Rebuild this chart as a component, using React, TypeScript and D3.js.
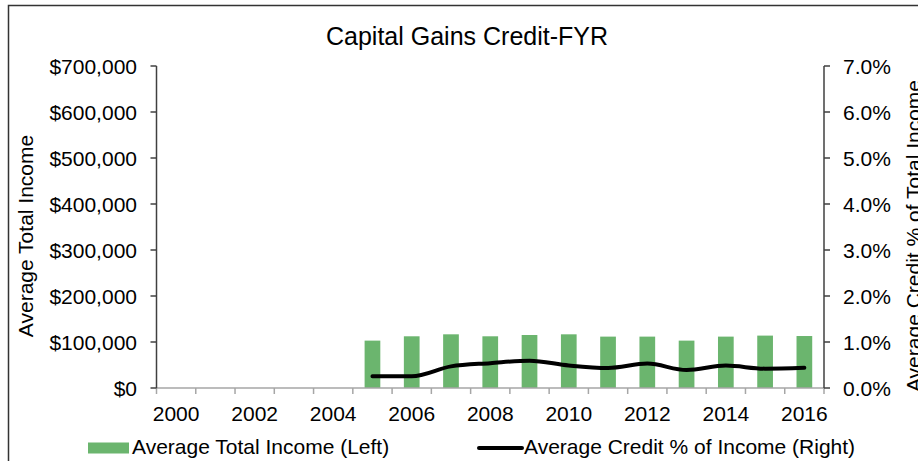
import React from "react";
import * as d3 from "d3";

const years: number[] = [2000, 2001, 2002, 2003, 2004, 2005, 2006, 2007, 2008, 2009, 2010, 2011, 2012, 2013, 2014, 2015, 2016];
const avgIncome: (number | null)[] = [null, null, null, null, null, 103000, 112400, 116700, 112400, 115200, 116700, 111700, 111700, 103000, 111700, 113900, 113000];
const creditPct: (number | null)[] = [null, null, null, null, null, 0.254, 0.254, 0.47, 0.54, 0.595, 0.49, 0.435, 0.53, 0.39, 0.487, 0.42, 0.44];
const leftTicks: number[] = [0, 100000, 200000, 300000, 400000, 500000, 600000, 700000];
const rightTicks: number[] = [0, 1, 2, 3, 4, 5, 6, 7];
const xLabelYears: number[] = [2000, 2002, 2004, 2006, 2008, 2010, 2012, 2014, 2016];

const W = 918;
const H = 461;
const L = 156.5;
const R = 824;
const T = 66;
const B = 388;
const FONT = "'Liberation Sans', Arial, sans-serif";

export default function App() {
  const x = d3.scaleBand<number>().domain(years).range([L, R]).paddingInner(0).paddingOuter(0);
  const yL = d3.scaleLinear().domain([0, 700000]).range([B, T]);
  const yR = d3.scaleLinear().domain([0, 7]).range([B, T]);
  const bw = x.bandwidth() * 0.4;
  const fmtL = (v: number) => "$" + d3.format(",")(v);
  const fmtR = (v: number) => d3.format(".1f")(v) + "%";

  const lineData = years
    .map((yr, i) => ({ yr, v: creditPct[i] }))
    .filter((d) => d.v !== null) as { yr: number; v: number }[];
  const line = d3
    .line<{ yr: number; v: number }>()
    .x((d) => (x(d.yr) as number) + x.bandwidth() / 2)
    .y((d) => yR(d.v))
    .curve(d3.curveMonotoneX);

  const boundaries = years.map((yr) => x(yr) as number).concat([R]);
  const axisGray = "#a6a6a6";
  const axisDark = "#404040";

  return (
    <svg width={W} height={H} style={{ position: "absolute", left: 0, top: 0, background: "#fff" }} fontFamily={FONT}>
      <rect x={0} y={0} width={W} height={H} fill="#fff" />
      <rect x={8.5} y={5.5} width={W + 20} height={H + 20} fill="none" stroke="#333" strokeWidth={1.5} />
      <text x={467} y={45} fontSize={25} textAnchor="middle" fill="#000">Capital Gains Credit-FYR</text>

      {/* bars */}
      {years.map((yr, i) =>
        avgIncome[i] === null ? null : (
          <rect
            key={"b" + yr}
            x={(x(yr) as number) + (x.bandwidth() - bw) / 2}
            y={yL(avgIncome[i] as number)}
            width={bw}
            height={B - yL(avgIncome[i] as number)}
            fill="#6bb56e"
          />
        )
      )}

      {/* x axis */}
      <line x1={L} x2={R} y1={B} y2={B} stroke={axisGray} strokeWidth={1.5} />
      {boundaries.map((bx, i) => (
        <line key={"xt" + i} x1={bx} x2={bx} y1={B} y2={B + 6} stroke={axisGray} strokeWidth={1.5} />
      ))}
      {xLabelYears.map((yr) => (
        <text key={"xl" + yr} x={(x(yr) as number) + x.bandwidth() / 2} y={421} fontSize={21} textAnchor="middle" fill="#000">
          {yr}
        </text>
      ))}

      {/* left axis */}
      <line x1={L} x2={L} y1={T} y2={B} stroke={axisDark} strokeWidth={1.5} />
      {leftTicks.map((v) => (
        <g key={"lt" + v}>
          <line x1={L - 6} x2={L} y1={yL(v)} y2={yL(v)} stroke={axisDark} strokeWidth={1.5} />
          <text x={137} y={yL(v) + 7.5} fontSize={21} textAnchor="end" fill="#000">{fmtL(v)}</text>
        </g>
      ))}

      {/* right axis */}
      <line x1={R} x2={R} y1={T} y2={B} stroke={axisDark} strokeWidth={1.5} />
      {rightTicks.map((v) => (
        <g key={"rt" + v}>
          <line x1={R} x2={R + 6} y1={yR(v)} y2={yR(v)} stroke={axisDark} strokeWidth={1.5} />
          <text x={843} y={yR(v) + 7.5} fontSize={21} textAnchor="start" fill="#000">{fmtR(v)}</text>
        </g>
      ))}

      {/* line */}
      <path d={line(lineData) || ""} fill="none" stroke="#000" strokeWidth={4} strokeLinecap="round" strokeLinejoin="round" />

      {/* axis titles */}
      <text transform="translate(33,236) rotate(-90)" fontSize={21} textAnchor="middle" fill="#000">Average Total Income</text>
      <text transform="translate(921,236) rotate(-90)" fontSize={21} textAnchor="middle" fill="#000">Average Credit % of Total Income</text>

      {/* legend */}
      <rect x={88} y={442.5} width={41} height={11} fill="#6bb56e" />
      <text x={132} y={454} fontSize={21} fill="#000">Average Total Income (Left)</text>
      <line x1={479} x2={522} y1={448} y2={448} stroke="#000" strokeWidth={4} strokeLinecap="round" />
      <text x={524} y={454} fontSize={21} fill="#000">Average Credit % of Income (Right)</text>
    </svg>
  );
}
